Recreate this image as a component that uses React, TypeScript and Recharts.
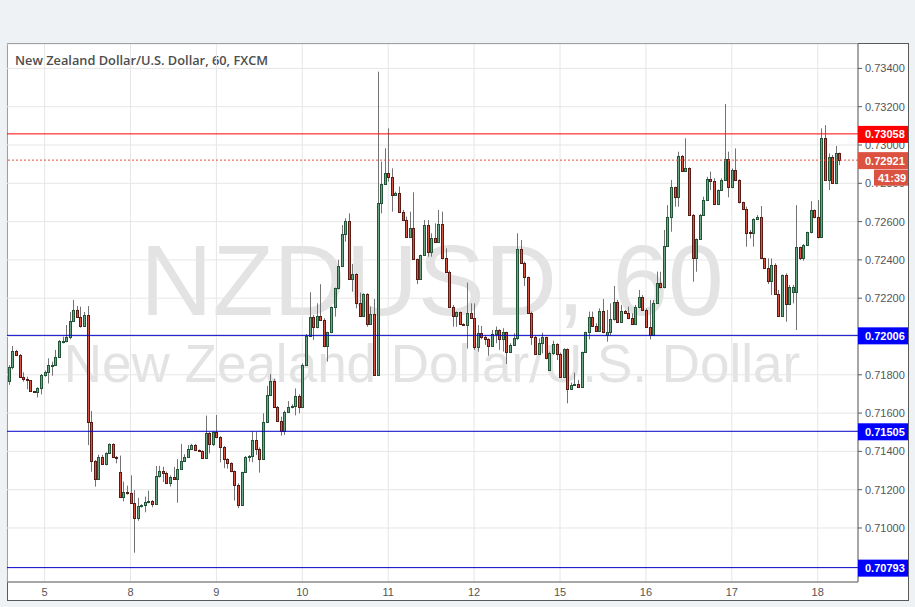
import React from "react";
import { ComposedChart, Bar, XAxis, YAxis, CartesianGrid, ReferenceLine } from "recharts";

// one hourly candle: open, high, low, close
type Candle = [number, number, number, number];

const day4: Candle[] = [
  [0.71769, 0.71851, 0.71747, 0.71839], [0.71839, 0.7195, 0.71829, 0.71924], [0.71924, 0.7193, 0.71898, 0.71902],
  [0.71902, 0.71909, 0.71787, 0.7179], [0.7179, 0.71813, 0.71764, 0.71776], [0.71776, 0.7179, 0.71724, 0.71771],
  [0.71771, 0.71773, 0.7171, 0.71714], [0.71714, 0.71716, 0.71705, 0.71708], [0.71708, 0.71735, 0.71682, 0.71729],
  [0.71729, 0.71804, 0.71698, 0.71797],
];
const day5: Candle[] = [
  [0.71797, 0.71822, 0.7179, 0.71813], [0.71813, 0.71886, 0.71755, 0.71849], [0.71849, 0.71869, 0.71795, 0.71851],
  [0.71851, 0.7193, 0.71846, 0.71891], [0.71891, 0.71982, 0.71888, 0.71975], [0.71975, 0.71999, 0.71964, 0.71978],
  [0.71978, 0.7206, 0.7197, 0.71996], [0.71996, 0.72128, 0.71985, 0.72079], [0.72079, 0.72191, 0.72077, 0.72137],
  [0.72137, 0.72159, 0.72098, 0.72102], [0.72102, 0.72156, 0.72046, 0.72057], [0.72057, 0.72128, 0.72055, 0.7211],
  [0.7211, 0.72159, 0.71433, 0.71552], [0.71552, 0.71611, 0.71294, 0.71348], [0.71348, 0.71355, 0.71216, 0.71258],
  [0.71258, 0.71383, 0.71254, 0.71371], [0.71371, 0.71381, 0.71332, 0.71336], [0.71336, 0.71395, 0.71327, 0.7139],
  [0.7139, 0.71442, 0.71386, 0.71437], [0.71437, 0.71442, 0.71367, 0.71373], [0.71373, 0.71376, 0.71338, 0.71369],
  [0.71291, 0.71378, 0.7116, 0.71164], [0.71164, 0.71242, 0.71139, 0.71188], [0.71188, 0.71221, 0.71174, 0.71181],
];
const day8: Candle[] = [
  [0.71181, 0.71275, 0.71127, 0.71129], [0.71129, 0.71198, 0.70871, 0.71054], [0.71054, 0.71157, 0.71038, 0.71115],
  [0.71115, 0.71124, 0.71106, 0.71118], [0.71118, 0.71164, 0.71082, 0.71136], [0.71136, 0.71195, 0.71129, 0.71141],
  [0.71141, 0.71146, 0.71108, 0.71124], [0.71124, 0.71324, 0.7112, 0.7127], [0.7127, 0.71324, 0.71263, 0.71298],
  [0.71298, 0.7132, 0.7124, 0.71289], [0.71289, 0.71294, 0.7123, 0.71233], [0.71233, 0.71275, 0.71216, 0.71268],
  [0.71268, 0.71319, 0.71254, 0.71258], [0.71258, 0.7136, 0.71132, 0.7131], [0.7131, 0.71439, 0.71306, 0.71348],
  [0.71348, 0.71385, 0.71345, 0.71373], [0.71373, 0.71433, 0.71369, 0.71411], [0.71411, 0.71439, 0.71407, 0.71433],
  [0.71433, 0.71439, 0.71402, 0.71406], [0.71406, 0.7141, 0.71399, 0.71402], [0.71402, 0.71406, 0.71362, 0.71364],
  [0.71364, 0.71587, 0.7136, 0.71496], [0.71496, 0.71501, 0.7139, 0.71437], [0.71437, 0.71506, 0.71428, 0.71501],
];
const day9: Candle[] = [
  [0.71501, 0.7159, 0.71468, 0.71473], [0.71473, 0.7148, 0.71343, 0.71425], [0.71425, 0.71428, 0.71312, 0.71359],
  [0.71359, 0.71364, 0.7131, 0.71338], [0.71338, 0.71343, 0.71291, 0.71296], [0.71296, 0.713, 0.71143, 0.71226],
  [0.71226, 0.71233, 0.71104, 0.71118], [0.71118, 0.71294, 0.71115, 0.71291], [0.71291, 0.71376, 0.71288, 0.71371],
  [0.71371, 0.71381, 0.71346, 0.71376], [0.71376, 0.71506, 0.71343, 0.71459], [0.71459, 0.71503, 0.71381, 0.71414],
  [0.71414, 0.71421, 0.71289, 0.71362], [0.71362, 0.71599, 0.71359, 0.71554], [0.71554, 0.71742, 0.7155, 0.71693],
  [0.71693, 0.71804, 0.71689, 0.71768], [0.71768, 0.7178, 0.7163, 0.71634], [0.71634, 0.71637, 0.71557, 0.71561],
  [0.71561, 0.71581, 0.71482, 0.71505], [0.71505, 0.71613, 0.71486, 0.71606], [0.71606, 0.71663, 0.71602, 0.71632],
  [0.71632, 0.71646, 0.71625, 0.71635], [0.71635, 0.71729, 0.71588, 0.71688], [0.71688, 0.71698, 0.71599, 0.7163],
];
const day10: Candle[] = [
  [0.7163, 0.71859, 0.71627, 0.71851], [0.71851, 0.72013, 0.71848, 0.72003], [0.72003, 0.72231, 0.72, 0.72104],
  [0.72104, 0.72112, 0.71982, 0.72048], [0.72048, 0.72173, 0.72043, 0.72109], [0.72109, 0.72273, 0.72083, 0.72086],
  [0.72086, 0.72095, 0.71944, 0.71952], [0.71952, 0.72025, 0.71869, 0.72022], [0.72022, 0.72156, 0.72017, 0.72152],
  [0.72152, 0.72255, 0.72104, 0.72252], [0.72252, 0.724, 0.72246, 0.7237], [0.7237, 0.72582, 0.72365, 0.72535],
  [0.72535, 0.72617, 0.72495, 0.72603], [0.72603, 0.72643, 0.72295, 0.72299], [0.72299, 0.72379, 0.72234, 0.72325],
  [0.72325, 0.7233, 0.72147, 0.72173], [0.72173, 0.72229, 0.72104, 0.72109], [0.72109, 0.72226, 0.72104, 0.7222],
  [0.7222, 0.72226, 0.72051, 0.72064], [0.72064, 0.72156, 0.7206, 0.72116], [0.72116, 0.72196, 0.71796, 0.71799],
  [0.71799, 0.73383, 0.71796, 0.72695], [0.72695, 0.72913, 0.72643, 0.72795], [0.72795, 0.72983, 0.72791, 0.72856],
];
const day11: Candle[] = [
  [0.72856, 0.73087, 0.72809, 0.72831], [0.72831, 0.72878, 0.72652, 0.72739], [0.72739, 0.72756, 0.72734, 0.72748],
  [0.72748, 0.72783, 0.72647, 0.72652], [0.72652, 0.72661, 0.72603, 0.72608], [0.72608, 0.72626, 0.72518, 0.72521],
  [0.72521, 0.72652, 0.72518, 0.72565], [0.72565, 0.72753, 0.724, 0.72403], [0.72403, 0.72407, 0.72274, 0.72299],
  [0.72299, 0.72427, 0.72295, 0.72424], [0.72424, 0.72608, 0.7242, 0.72582], [0.72582, 0.72608, 0.72417, 0.72443],
  [0.72443, 0.72539, 0.72417, 0.72513], [0.72513, 0.72591, 0.7249, 0.72495], [0.72495, 0.72661, 0.7249, 0.72588],
  [0.72588, 0.72652, 0.72403, 0.72408], [0.72408, 0.7246, 0.72333, 0.72339], [0.72339, 0.72344, 0.72152, 0.72156],
  [0.72156, 0.72165, 0.72051, 0.72109], [0.72109, 0.7213, 0.72051, 0.72126], [0.72126, 0.7213, 0.7206, 0.72064],
  [0.72064, 0.72069, 0.72056, 0.7206], [0.7206, 0.72281, 0.71937, 0.72121], [0.72121, 0.72173, 0.72095, 0.72098],
];
const day12: Candle[] = [
  [0.72098, 0.72173, 0.7193, 0.71947], [0.71947, 0.7206, 0.71921, 0.72017], [0.72017, 0.72055, 0.71985, 0.71996],
  [0.71996, 0.72008, 0.71956, 0.71985], [0.71985, 0.71991, 0.719, 0.71952], [0.71952, 0.72034, 0.71947, 0.72012],
  [0.72012, 0.72052, 0.71965, 0.72034], [0.72034, 0.72038, 0.7193, 0.71985], [0.71985, 0.72043, 0.71921, 0.72022],
  [0.72022, 0.72025, 0.71857, 0.71921], [0.71921, 0.71965, 0.71916, 0.71956], [0.71956, 0.72017, 0.71952, 0.71994],
  [0.71994, 0.72539, 0.71982, 0.72455], [0.72455, 0.72504, 0.72379, 0.72382], [0.72382, 0.72391, 0.72264, 0.72309],
  [0.72309, 0.72313, 0.72121, 0.72125], [0.72125, 0.7213, 0.71956, 0.71996], [0.71996, 0.72003, 0.71904, 0.71909],
  [0.71909, 0.71991, 0.71904, 0.71965], [0.71965, 0.7202, 0.71912, 0.71996], [0.71996, 0.71999, 0.71881, 0.71886],
  [0.71825, 0.71921, 0.71821, 0.71912], [0.71912, 0.71978, 0.71904, 0.71961], [0.71961, 0.71965, 0.71877, 0.71909],
];
const day15: Candle[] = [
  [0.71909, 0.71916, 0.71785, 0.7179], [0.7179, 0.71938, 0.71787, 0.71933], [0.71933, 0.71938, 0.71651, 0.71728],
  [0.71728, 0.71759, 0.71721, 0.71747], [0.71747, 0.71811, 0.71742, 0.71752], [0.71752, 0.71773, 0.71735, 0.71738],
  [0.71738, 0.71921, 0.71735, 0.71918], [0.71918, 0.72025, 0.71914, 0.72022], [0.72022, 0.7213, 0.71985, 0.721],
  [0.721, 0.7213, 0.72051, 0.72055], [0.72055, 0.72069, 0.72025, 0.72031], [0.72031, 0.72147, 0.72025, 0.72133],
  [0.72133, 0.72196, 0.72017, 0.72022], [0.72008, 0.72139, 0.71973, 0.72022], [0.72022, 0.72173, 0.72005, 0.72092],
  [0.72092, 0.72264, 0.72083, 0.72179], [0.72179, 0.72191, 0.72074, 0.72078], [0.72078, 0.72165, 0.72074, 0.72133],
  [0.72133, 0.72139, 0.72121, 0.72125], [0.72125, 0.72156, 0.7209, 0.72095], [0.72095, 0.72121, 0.7206, 0.72064],
  [0.72064, 0.72165, 0.7206, 0.72153], [0.72153, 0.72243, 0.72147, 0.72205], [0.72205, 0.72217, 0.72135, 0.72139],
];
const day16: Candle[] = [
  [0.72139, 0.72147, 0.72046, 0.72048], [0.72048, 0.72191, 0.71985, 0.72008], [0.72008, 0.72191, 0.72005, 0.72173],
  [0.72173, 0.72339, 0.7217, 0.72278], [0.72278, 0.72338, 0.72251, 0.72257], [0.72257, 0.72556, 0.72251, 0.72472],
  [0.72472, 0.72686, 0.72469, 0.72622], [0.72622, 0.72817, 0.72547, 0.72779], [0.72779, 0.72782, 0.72678, 0.72727],
  [0.72727, 0.72965, 0.72678, 0.72942], [0.72942, 0.72948, 0.72861, 0.72866], [0.72866, 0.73035, 0.72861, 0.72878],
  [0.72878, 0.72883, 0.72629, 0.72634], [0.72634, 0.7264, 0.72286, 0.72411], [0.72411, 0.72512, 0.72338, 0.72507],
  [0.72507, 0.7264, 0.72504, 0.72634], [0.72634, 0.7273, 0.72629, 0.72713], [0.72713, 0.72834, 0.72707, 0.72821],
  [0.72821, 0.72861, 0.72765, 0.72814], [0.72814, 0.72826, 0.72686, 0.7269], [0.7269, 0.72768, 0.72686, 0.72765],
  [0.72765, 0.72826, 0.72761, 0.72817], [0.72817, 0.73214, 0.72814, 0.72925], [0.72925, 0.72965, 0.72727, 0.72779],
];
const day17: Candle[] = [
  [0.72779, 0.72878, 0.72774, 0.72869], [0.72869, 0.72982, 0.72814, 0.72817], [0.72817, 0.72821, 0.72695, 0.727],
  [0.727, 0.72704, 0.7266, 0.72666], [0.72666, 0.72678, 0.72469, 0.72542], [0.72547, 0.72556, 0.72512, 0.72539],
  [0.72539, 0.72617, 0.72469, 0.72612], [0.72612, 0.72634, 0.72608, 0.72626], [0.72626, 0.72681, 0.72404, 0.72408],
  [0.72408, 0.72411, 0.72352, 0.72356], [0.72356, 0.72408, 0.72274, 0.72291], [0.72291, 0.72408, 0.72217, 0.72373],
  [0.72373, 0.72382, 0.72217, 0.72222], [0.72222, 0.72243, 0.72103, 0.72109], [0.72109, 0.72324, 0.72103, 0.72321],
  [0.72321, 0.7233, 0.72077, 0.72168], [0.72168, 0.72269, 0.72164, 0.7226], [0.72234, 0.72269, 0.72173, 0.7226],
  [0.72234, 0.72686, 0.72034, 0.72465], [0.72465, 0.72469, 0.72399, 0.72408], [0.72408, 0.72483, 0.72396, 0.72478],
  [0.72478, 0.72547, 0.72474, 0.72544], [0.72544, 0.72707, 0.72539, 0.7266], [0.7266, 0.72664, 0.72617, 0.72622],
];
const day18: Candle[] = [
  [0.72622, 0.72713, 0.72512, 0.72521], [0.72521, 0.73087, 0.72518, 0.73035], [0.73035, 0.73104, 0.72814, 0.72817],
  [0.72817, 0.72956, 0.72765, 0.72935], [0.72935, 0.72948, 0.728, 0.72803], [0.72803, 0.72995, 0.72795, 0.72956],
  [0.72956, 0.7296, 0.72895, 0.72921],
];

const dayLabels = ["4", "5", "8", "9", "10", "11", "12", "15", "16", "17", "18"];
const dayCandles = [day4, day5, day8, day9, day10, day11, day12, day15, day16, day17, day18];

const priceTicks = [0.71, 0.712, 0.714, 0.716, 0.718, 0.72, 0.722, 0.724, 0.726, 0.728, 0.73, 0.732, 0.734];
const resistance = 0.73058;
const supports = [0.72006, 0.71505, 0.70793];
const lastPrice = 0.72921;
const countdown = "41:39";
const title = "New Zealand Dollar/U.S. Dollar, 60, FXCM";
const watermark = "NZDUSD, 60";
const watermarkSub = "New Zealand Dollar/U.S. Dollar";

const rows = dayCandles.flatMap((candles, d) =>
  candles.map((k, n) => ({ day: dayLabels[d], first: n === 0, o: k[0], h: k[1], l: k[2], c: k[3] }))
).map((r, i) => ({ ...r, i }));

const dayTicks = rows.filter((r) => r.first && r.day !== "4").map((r) => r.i);
const dayOf = (i: number) => rows[i]?.day ?? "";

const AXIS_FONT = "'Liberation Sans', Arial, sans-serif";

const CandleShape = (props: any) => {
  const { x, y, width, height, payload } = props;
  if (!payload || x == null || y == null) return null;
  const { o, h, l, c } = payload;
  const k = h > l ? height / (h - l) : 0;
  const py = (v: number) => y + (h - v) * k;
  const cx = Math.round(x + width / 2);
  const top = Math.round(py(Math.max(o, c)));
  const bot = Math.round(py(Math.min(o, c)));
  const up = c >= o;
  return (
    <g>
      <line x1={cx + 0.5} x2={cx + 0.5} y1={y} y2={y + height} stroke="#737375" strokeWidth={1} />
      <rect
        x={cx - 0.5}
        y={top + 0.5}
        width={2}
        height={Math.max(bot - top, 1)}
        fill={up ? "#6ba583" : "#d75442"}
        stroke={up ? "#225437" : "#5b1a13"}
        strokeWidth={1}
      />
    </g>
  );
};

const PriceTag = (props: any) => {
  const { viewBox, text, color, note } = props;
  if (!viewBox) return null;
  const x = viewBox.x + viewBox.width;
  const y = viewBox.y;
  return (
    <g>
      <rect x={x} y={y - 8} width={50} height={17} fill={color} />
      <text x={x + 7} y={y + 4.5} fill="#fff" fontSize={11} fontWeight="bold" fontFamily={AXIS_FONT}>
        {text}
      </text>
      {note && (
        <g>
          <rect x={x + 16} y={y + 9.5} width={34} height={16} fill={color} />
          <text x={x + 20} y={y + 21.5} fill="#fff" fontSize={11} fontWeight="bold" fontFamily={AXIS_FONT}>
            {note}
          </text>
        </g>
      )}
    </g>
  );
};

export default function App() {
  return (
    <div style={{ position: "absolute", left: 0, top: 0, width: 915, height: 607, background: "#eff2f5" }}>
      <div
        style={{
          position: "absolute",
          left: 7,
          top: 43,
          width: 902,
          height: 558,
          boxSizing: "border-box",
          border: "1px solid #5a5a5a",
          background: "#ffffff",
        }}
      />
      <svg width={915} height={607} style={{ position: "absolute", left: 0, top: 0 }}>
        <text x={432} y={315} textAnchor="middle" fontSize={100} fill="#e3e3e3" fontFamily={AXIS_FONT}>
          {watermark}
        </text>
        <text x={432} y={382} textAnchor="middle" fontSize={53} fill="#e3e3e3" fontFamily={AXIS_FONT}>
          {watermarkSub}
        </text>
        <text x={15} y={65} fontSize={12.8} fontWeight={600} fill="#4d4d4d" fontFamily="'Open Sans', sans-serif">
          {title}
        </text>
      </svg>
      <div style={{ position: "absolute", left: 0, top: 0 }}>
        <ComposedChart width={915} height={607} data={rows} margin={{ top: 44, right: 7, bottom: 7, left: 7 }}>
          <CartesianGrid stroke="#e6e6e6" strokeWidth={1} />
          <XAxis
            dataKey="i"
            type="category"
            ticks={dayTicks}
            interval={0}
            tickFormatter={dayOf}
            height={18}
            padding={{ left: 0, right: 17 }}
            tickLine={false}
            tickSize={0}
            tickMargin={6}
            axisLine={{ stroke: "#5a5a5a" }}
            tick={{ fill: "#555", fontSize: 11, fontFamily: AXIS_FONT }}
          />
          <YAxis
            orientation="right"
            width={50}
            type="number"
            domain={[0.70718, 0.735274]}
            allowDataOverflow
            ticks={priceTicks}
            interval={0}
            tickFormatter={(v: number) => v.toFixed(5)}
            tickSize={4}
            tickMargin={3}
            tickLine={{ stroke: "#5a5a5a" }}
            axisLine={{ stroke: "#5a5a5a" }}
            tick={{ fill: "#555", fontSize: 11, fontFamily: AXIS_FONT }}
          />
          <Bar
            dataKey={(r: any) => [r.l, r.h]}
            shape={<CandleShape />}
            isAnimationActive={false}
          />
          <ReferenceLine
            y={resistance}
            stroke="#ff0000"
            strokeWidth={1}
            zIndex={3000}
            label={<PriceTag text={resistance.toFixed(5)} color="#ff0000" />}
          />
          <ReferenceLine
            y={lastPrice}
            stroke="#e0513f"
            strokeDasharray="2 2"
            zIndex={3000}
            label={<PriceTag text={lastPrice.toFixed(5)} color="#dc5240" note={countdown} />}
          />
          {supports.map((p) => (
            <ReferenceLine
              key={p}
              y={p}
              stroke="#0000c8"
              strokeWidth={1}
              zIndex={3000}
              label={<PriceTag text={p.toFixed(5)} color="#0000ff" />}
            />
          ))}
        </ComposedChart>
      </div>
    </div>
  );
}
